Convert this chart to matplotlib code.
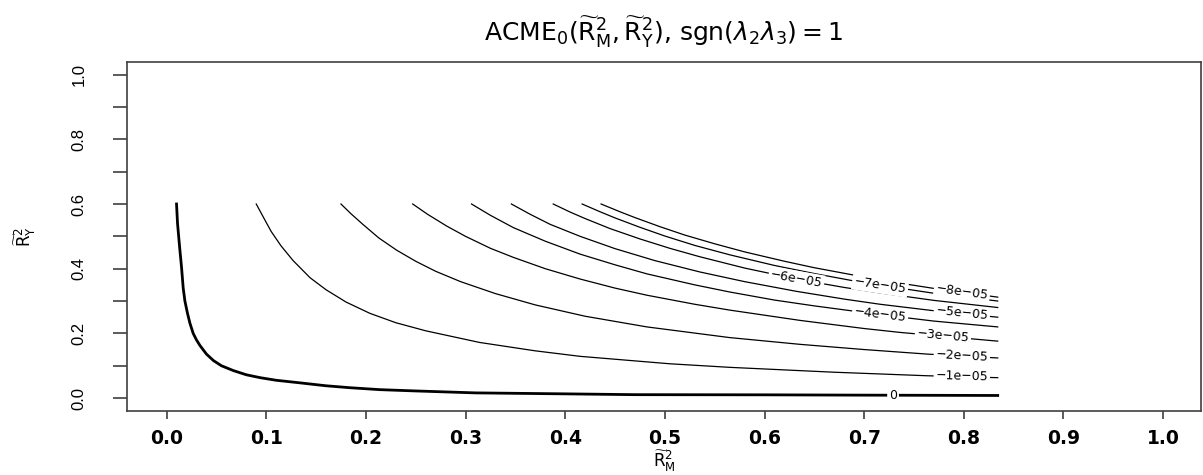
import numpy as np
import matplotlib
matplotlib.use("Agg")
import matplotlib.pyplot as plt

plt.rcParams['mathtext.fontset'] = 'dejavusans'

# ---- data (R^2_M on x, R^2_Y on y) ----
levels = [0, -1e-05, -2e-05, -3e-05, -4e-05, -5e-05, -6e-05, -7e-05, -8e-05]
level_labels = ["0", "\u22121e\u221205", "\u22122e\u221205", "\u22123e\u221205", "\u22124e\u221205",
                "\u22125e\u221205", "\u22126e\u221205", "\u22127e\u221205", "\u22128e\u221205"]

c0_x = [0.010, 0.0105, 0.011, 0.013, 0.015, 0.0167, 0.0184, 0.021, 0.0234, 0.0267, 0.030, 0.0334, 0.040, 0.047,
        0.055, 0.067, 0.080, 0.094, 0.110, 0.134, 0.160, 0.184, 0.214, 0.25, 0.31, 0.40, 0.47, 0.60, 0.70, 0.834]
c0_y = [0.600, 0.570, 0.540, 0.470, 0.405, 0.340, 0.300, 0.262, 0.232, 0.200, 0.180, 0.163, 0.136, 0.116,
        0.100, 0.085, 0.072, 0.063, 0.055, 0.047, 0.038, 0.032, 0.026, 0.022, 0.016, 0.013, 0.0105, 0.010, 0.009, 0.008]

c1_x = [0.090, 0.097, 0.105, 0.115, 0.127, 0.144, 0.160, 0.180, 0.204, 0.230, 0.260, 0.314, 0.370, 0.415,
        0.505, 0.565, 0.669, 0.763, 0.834]
c1_y = [0.600, 0.560, 0.515, 0.470, 0.425, 0.372, 0.335, 0.297, 0.262, 0.233, 0.208, 0.172, 0.146, 0.129,
        0.106, 0.095, 0.080, 0.069, 0.063]

c2_x = [0.175, 0.185, 0.197, 0.213, 0.231, 0.250, 0.270, 0.295, 0.330, 0.370, 0.420, 0.482, 0.565, 0.636,
        0.700, 0.763, 0.834]
c2_y = [0.600, 0.570, 0.537, 0.495, 0.457, 0.423, 0.392, 0.360, 0.323, 0.288, 0.253, 0.220, 0.187, 0.166,
        0.150, 0.136, 0.124]

c3_x = [0.247, 0.262, 0.281, 0.300, 0.325, 0.348, 0.380, 0.415, 0.450, 0.482, 0.530, 0.565, 0.636, 0.700,
        0.736, 0.790, 0.834]
c3_y = [0.600, 0.568, 0.532, 0.500, 0.463, 0.435, 0.400, 0.368, 0.340, 0.318, 0.290, 0.272, 0.240, 0.215,
        0.203, 0.188, 0.176]

c4_x = [0.306, 0.325, 0.348, 0.380, 0.415, 0.450, 0.482, 0.530, 0.565, 0.610, 0.650, 0.716, 0.770, 0.834]
c4_y = [0.600, 0.565, 0.527, 0.485, 0.445, 0.412, 0.384, 0.350, 0.328, 0.303, 0.285, 0.258, 0.238, 0.220]

c5_x = [0.346, 0.365, 0.385, 0.415, 0.450, 0.490, 0.535, 0.580, 0.632, 0.680, 0.716, 0.770, 0.834]
c5_y = [0.600, 0.568, 0.537, 0.500, 0.462, 0.425, 0.390, 0.360, 0.330, 0.306, 0.290, 0.270, 0.250]

c6_x = [0.388, 0.405, 0.420, 0.445, 0.475, 0.505, 0.535, 0.580, 0.632, 0.680, 0.716, 0.770, 0.834]
c6_y = [0.600, 0.575, 0.555, 0.524, 0.492, 0.463, 0.437, 0.402, 0.368, 0.342, 0.325, 0.302, 0.280]

c7_x = [0.417, 0.435, 0.450, 0.475, 0.500, 0.530, 0.565, 0.610, 0.650, 0.690, 0.716, 0.770, 0.834]
c7_y = [0.600, 0.576, 0.557, 0.528, 0.501, 0.472, 0.443, 0.410, 0.385, 0.362, 0.349, 0.324, 0.300]

c8_x = [0.436, 0.455, 0.470, 0.495, 0.520, 0.550, 0.580, 0.620, 0.650, 0.690, 0.720, 0.770, 0.834]
c8_y = [0.600, 0.576, 0.558, 0.530, 0.504, 0.477, 0.452, 0.423, 0.403, 0.380, 0.363, 0.339, 0.312]

contours_x = [c0_x, c1_x, c2_x, c3_x, c4_x, c5_x, c6_x, c7_x, c8_x]
contours_y = [c0_y, c1_y, c2_y, c3_y, c4_y, c5_y, c6_y, c7_y, c8_y]

# label x-positions along each contour
label_x = [0.729, 0.798, 0.798, 0.779, 0.716, 0.798, 0.632, 0.716, 0.798]

x_ticks = [0.0, 0.1, 0.2, 0.3, 0.4, 0.5, 0.6, 0.7, 0.8, 0.9, 1.0]
x_ticklabels = ["0.0", "0.1", "0.2", "0.3", "0.4", "0.5", "0.6", "0.7", "0.8", "0.9", "1.0"]
y_ticks = [0.0, 0.1, 0.2, 0.3, 0.4, 0.5, 0.6, 0.7, 0.8, 0.9, 1.0]
y_ticklabels = ["0.0", "", "0.2", "", "0.4", "", "0.6", "", "0.8", "", "1.0"]

# ---- figure ----
W, H = 1203, 475
fig = plt.figure(figsize=(W / 100, H / 100), dpi=100)
left, right, top, bottom = 126.7, 1201.0, 61.7, 411.0
ax = fig.add_axes([left / W, 1 - bottom / H, (right - left) / W, (bottom - top) / H])
ax.set_xlim(-0.04, 1.038)
ax.set_ylim(-0.04, 1.04)

frame_col = "#404040"
for s in ax.spines.values():
    s.set_color(frame_col)
    s.set_linewidth(1.2)

for i, (xs, ys) in enumerate(zip(contours_x, contours_y)):
    lw = 2.0 if i == 0 else 0.9
    ax.plot(xs, ys, color="black", lw=lw, solid_joinstyle="round", zorder=2)

# contour labels, rotated along the local slope
fig.canvas.draw()
for i, (xs, ys) in enumerate(zip(contours_x, contours_y)):
    lx = label_x[i]
    ly = float(np.interp(lx, xs, ys))
    ly2 = float(np.interp(lx + 0.02, xs, ys))
    p1 = ax.transData.transform((lx, ly))
    p2 = ax.transData.transform((lx + 0.02, ly2))
    ang = np.degrees(np.arctan2(p2[1] - p1[1], p2[0] - p1[0]))
    ax.text(lx, ly, level_labels[i], fontsize=9, family="DejaVu Sans",
            rotation=ang, rotation_mode="anchor", ha="center", va="center",
            color="black", zorder=3,
            bbox=dict(boxstyle="square,pad=0.15", fc="white", ec="none"))

ax.set_xticks(x_ticks)
ax.set_xticklabels(x_ticklabels, fontsize=13.5, family="DejaVu Sans", fontweight="bold")
ax.set_yticks(y_ticks)
ax.set_yticklabels(y_ticklabels, fontsize=12, family="Liberation Sans", rotation=90, va="center")
ax.tick_params(axis="x", length=6, width=1.2, color=frame_col, pad=7)
ax.tick_params(axis="y", length=10, width=1.2, color=frame_col, pad=19)

ax.set_title(r"ACME$_0(\widetilde{\mathrm{R}}^2_\mathrm{M},\widetilde{\mathrm{R}}^2_\mathrm{Y})$, sgn$(\lambda_2\lambda_3) = 1$",
             fontsize=18, family="DejaVu Sans", pad=15)
ax.set_xlabel(r"$\widetilde{\mathrm{R}}^2_\mathrm{M}$", fontsize=12, labelpad=0)
ax.set_ylabel(r"$\widetilde{\mathrm{R}}^2_\mathrm{Y}$", fontsize=12)
ax.yaxis.set_label_coords((38 - left) / (right - left), 0.5)

fig.savefig("out.png", dpi=100)
